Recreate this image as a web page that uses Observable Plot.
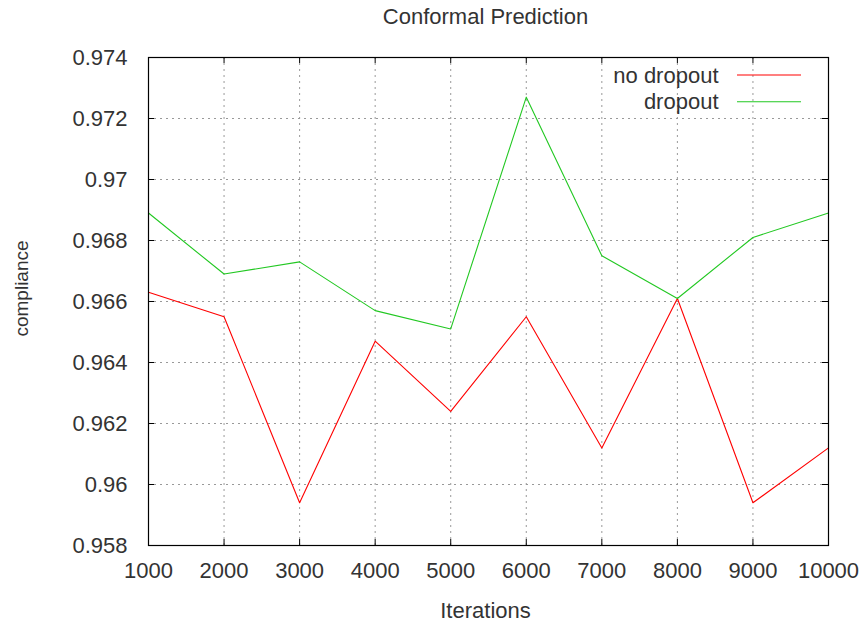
<!DOCTYPE html>
<html>
<head>
<meta charset="utf-8">
<script src="https://cdn.jsdelivr.net/npm/d3@7"></script>
<script src="https://cdn.jsdelivr.net/npm/@observablehq/plot@0.6"></script>
<style>
  html, body { margin: 0; padding: 0; background: #fff; }
  #chart svg { display: block; }
</style>
</head>
<body>
<div id="chart"></div>
<script>
const iterations = [1000, 2000, 3000, 4000, 5000, 6000, 7000, 8000, 9000, 10000];
const noDropout = [0.9663, 0.9655, 0.9594, 0.9647, 0.9624, 0.9655, 0.9612, 0.9661, 0.9594, 0.9612];
const dropout   = [0.9689, 0.9669, 0.9673, 0.9657, 0.9651, 0.9727, 0.9675, 0.9661, 0.9681, 0.9689];
const seriesNames = ["no dropout", "dropout"];
const seriesColors = ["#ff0000", "#22c822"];
const xTicks = [1000, 2000, 3000, 4000, 5000, 6000, 7000, 8000, 9000, 10000];
const yTicks = [0.958, 0.96, 0.962, 0.964, 0.966, 0.968, 0.97, 0.972, 0.974];
const yTickLabels = ["0.958", "0.96", "0.962", "0.964", "0.966", "0.968", "0.97", "0.972", "0.974"];
const titleText = "Conformal Prediction";
const xLabel = "Iterations";
const yLabel = "compliance";

const W = 861, H = 622;
const mL = 148, mR = 33, mT = 57, mB = 77;
const fw = W - mL - mR, fh = H - mT - mB;
const tick = 6;

const rows = [];
iterations.forEach((it, i) => {
  rows.push({x: it, y: noDropout[i], s: seriesNames[0]});
  rows.push({x: it, y: dropout[i], s: seriesNames[1]});
});

const font = "'Liberation Sans', Arial, sans-serif";
const fs = 22;
const txt = "#333";

const plot = Plot.plot({
  width: W, height: H,
  marginLeft: mL, marginRight: mR, marginTop: mT, marginBottom: mB,
  style: {fontFamily: font, fontSize: fs + "px", color: txt, background: "#fff"},
  x: {domain: [1000, 10000], ticks: xTicks},
  y: {domain: [0.958, 0.974], ticks: yTicks},
  color: {domain: seriesNames, range: seriesColors},
  marks: [
    Plot.ruleX(xTicks.slice(1, -1), {x: d => d, stroke: "#999", strokeDasharray: "2,4", strokeWidth: 1}),
    Plot.ruleY(yTicks.slice(1, -1), {y: d => d, stroke: "#999", strokeDasharray: "2,4", strokeWidth: 1}),
    // inward ticks
    Plot.ruleX(xTicks, {x: d => d, insetTop: fh - tick, stroke: "#000"}),
    Plot.ruleX(xTicks, {x: d => d, insetBottom: fh - tick, stroke: "#000"}),
    Plot.ruleY(yTicks, {y: d => d, insetRight: fw - tick, stroke: "#000"}),
    Plot.ruleY(yTicks, {y: d => d, insetLeft: fw - tick, stroke: "#000"}),
    Plot.axisX(xTicks, {tickSize: 0, tickPadding: 17, tickFormat: d => String(d), label: null, fontSize: fs, fill: txt}),
    Plot.axisY(yTicks, {tickSize: 0, tickPadding: 21, tickFormat: d => yTickLabels[yTicks.indexOf(d)], label: null, fontSize: fs, fill: txt}),
    Plot.line(rows, {x: "x", y: "y", z: "s", stroke: "s", strokeWidth: 1.1}),
    Plot.frame({stroke: "#000", strokeWidth: 1.2}),
    Plot.text([titleText], {frameAnchor: "top", dy: -49.6, dx: -3, lineAnchor: "top", fontSize: fs, fill: txt}),
    Plot.text([xLabel], {frameAnchor: "bottom", dy: 56.4, dx: -3, lineAnchor: "top", fontSize: fs, fill: txt}),
    Plot.text([yLabel], {frameAnchor: "left", dx: -127, dy: -13, rotate: -90, textAnchor: "middle", lineAnchor: "middle", fontSize: 19, fill: txt}),
    Plot.text([seriesNames[0]], {frameAnchor: "top-right", dx: -110, dy: 18, textAnchor: "end", lineAnchor: "middle", fontSize: fs, fill: txt}),
    Plot.text([seriesNames[1]], {frameAnchor: "top-right", dx: -110, dy: 44.7, textAnchor: "end", lineAnchor: "middle", fontSize: fs, fill: txt})
  ]
});

// legend sample lines
const svg = d3.select(plot);
const legendY = [mT + 18, mT + 44.7];
seriesNames.forEach((n, i) => {
  svg.append("line")
    .attr("x1", W - mR - 91).attr("x2", W - mR - 27)
    .attr("y1", legendY[i]).attr("y2", legendY[i])
    .attr("stroke", seriesColors[i]).attr("stroke-width", 1.1);
});

document.getElementById("chart").appendChild(plot);
</script>
</body>
</html>
